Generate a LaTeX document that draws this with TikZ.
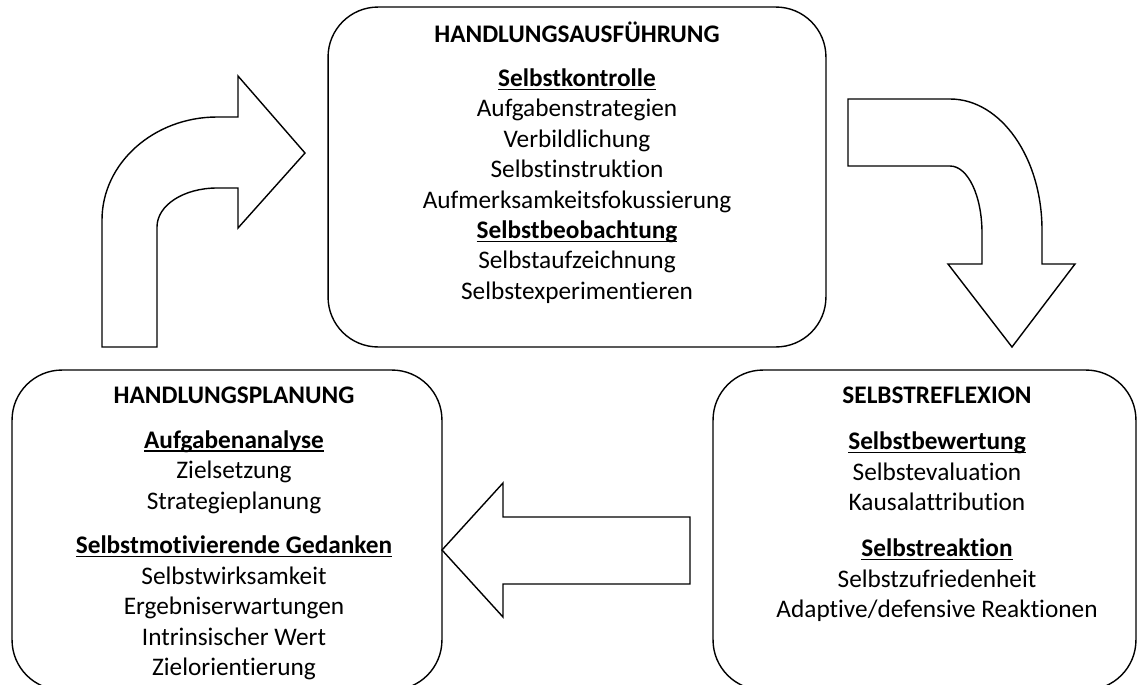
\documentclass[tikz,border=0pt]{standalone}
\usepackage{fontspec}
\setmainfont{Carlito}[Ligatures=NoCommon]
\newcommand{\ulhead}[1]{\setbox0\hbox{\textbf{#1}}\rlap{\rule[-1.9pt]{\wd0}{0.75pt}}\box0}
\begin{document}
\begin{tikzpicture} [x=0.02cm, y=-0.02cm, line width=0.8pt]

      \tikzstyle{phase_box} = [draw=black, rectangle, rounded corners=1cm, inner sep=0pt]
        \tikzstyle{phase_text} = [anchor=north, inner sep=0pt, align=center, font=\fontsize{14.4}{17.3}\selectfont]
            \tikzstyle{block_arrow} = [draw=black, fill=white, line join=miter]

      \clip (0,0) rectangle (1137,684);

            \draw
              (577,177) node[phase_box, minimum width=9.96cm, minimum height=6.8cm] (exec){}
              (227,530) node[phase_box, minimum width=8.6cm, minimum height=6.4cm] (plan){}
              (924.5,530) node[phase_box, minimum width=8.46cm, minimum height=6.4cm] (refl){}
              (577,20.8) node[phase_text] (exec_text){\rule{0pt}{12pt}\textbf{HANDLUNGSAUSFÜHRUNG}\\[7.7pt]
                \ulhead{Selbstkontrolle}\\ Aufgabenstrategien\\ Verbildlichung\\ Selbstinstruktion\\
                Aufmerksamkeitsfokussierung\\ \ulhead{Selbstbeobachtung}\\ Selbstaufzeichnung\\ Selbstexperimentieren}
              (234,381.8) node[phase_text] (plan_text){\rule{0pt}{12pt}\textbf{HANDLUNGSPLANUNG}\\[8.2pt]
                \ulhead{Aufgabenanalyse}\\ Zielsetzung\\ Strategieplanung\\[8.2pt]
                \ulhead{Selbstmotivierende Gedanken}\\ Selbstwirksamkeit\\ Ergebniserwartungen\\
                Intrinsischer Wert\\ Zielorientierung}
              (937,381.8) node[phase_text] (refl_text){\rule{0pt}{12pt}\textbf{SELBSTREFLEXION}\\[9pt]
                \ulhead{Selbstbewertung}\\ Selbstevaluation\\ Kausalattribution\\[9pt]
                \ulhead{Selbstreaktion}\\ Selbstzufriedenheit\\ Adaptive/defensive Reaktionen};

      \begin{scope}[block_arrow]
        % planung -> ausfuehrung
        \draw (102,347) -- (102,220) .. controls (102,163) and (154,117) .. (217,117) -- (238,117) -- (238,76)
          -- (305,153) -- (238,228) -- (238,188) -- (217,188) .. controls (184,188) and (157,205) .. (157,227)
          -- (157,347) -- cycle;
        % ausfuehrung -> reflexion
        \draw (848,99) -- (950,99) .. controls (1001,99) and (1042,158) .. (1042,230) -- (1042,264) -- (1075,264)
          -- (1012,347) -- (948,264) -- (982,264) -- (982,233) .. controls (982,196) and (968,166) .. (950,166)
          -- (848,166) -- cycle;
        % reflexion -> planung
        \draw (690,517) -- (503,517) -- (503,483) -- (442,550) -- (503,617) -- (503,584) -- (690,584) -- cycle;
      \end{scope}
    \end{tikzpicture}
\end{document}
